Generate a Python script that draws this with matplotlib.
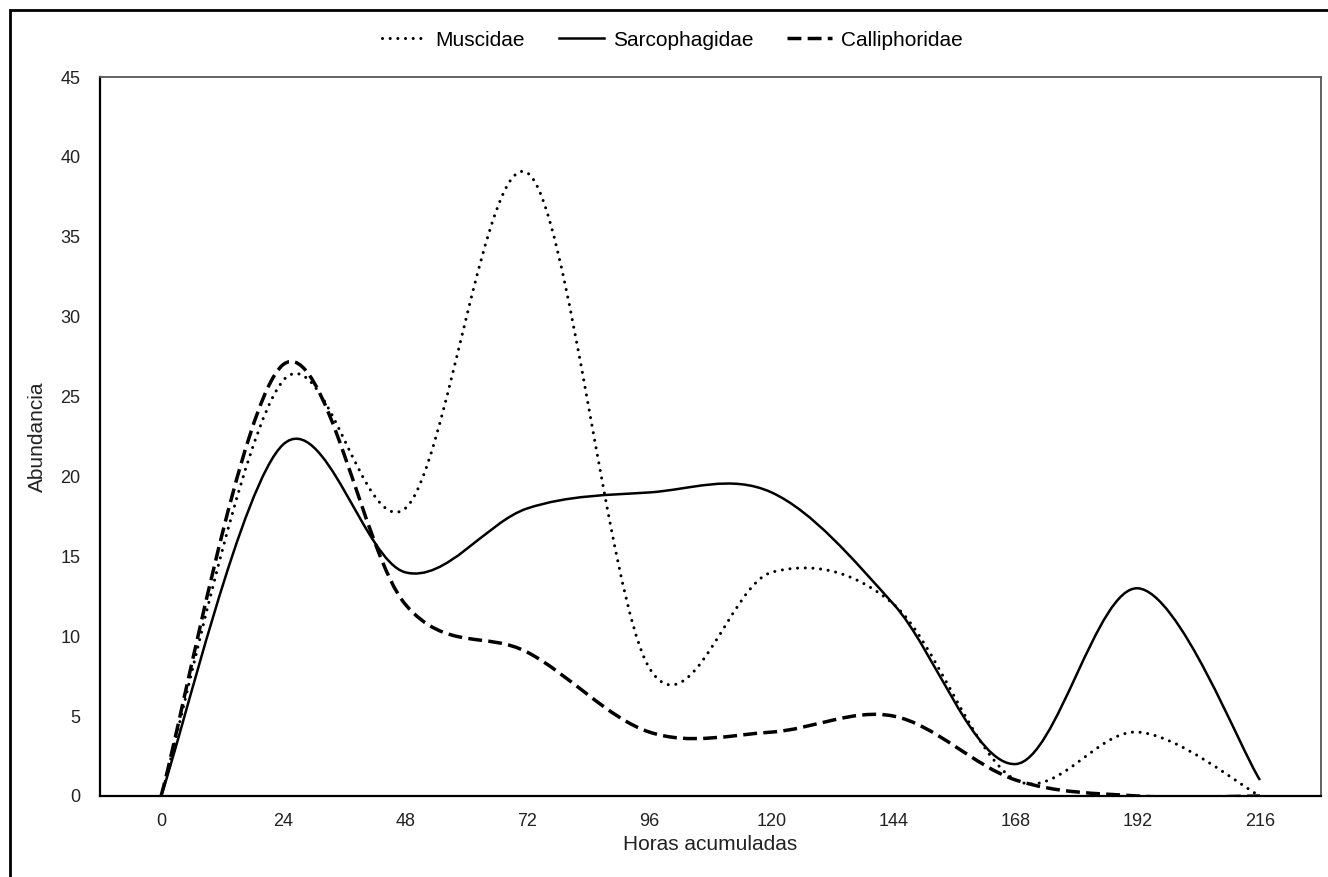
import matplotlib
matplotlib.use("Agg")
import matplotlib.pyplot as plt
from matplotlib.path import Path
from matplotlib.patches import PathPatch, Rectangle
from matplotlib.lines import Line2D

plt.rcParams["font.family"] = ["Liberation Sans", "DejaVu Sans"]

# data
horas = ["0", "24", "48", "72", "96", "120", "144", "168", "192", "216"]
muscidae = [0, 26, 18, 39, 8, 14, 12, 1, 4, 0]
sarcophagidae = [0, 22, 14, 18, 19, 19, 12, 2, 13, 1]
calliphoridae = [0, 27, 12, 9, 4, 4, 5, 1, 0, 0]

series = ["Muscidae", "Sarcophagidae", "Calliphoridae"]
styles = {
    "Muscidae": dict(linestyle=(0, (0.01, 2.5)), linewidth=2.2, capstyle="round"),
    "Sarcophagidae": dict(linestyle="-", linewidth=1.8, capstyle="butt"),
    "Calliphoridae": dict(linestyle=(0, (4, 1.8)), linewidth=2.5, capstyle="butt"),
}


def smooth_path(values):
    # Excel-like smoothed line: Catmull-Rom turned into cubic bezier segments
    n = len(values)
    pts = [(float(i), float(v)) for i, v in enumerate(values)]
    verts = [pts[0]]
    codes = [Path.MOVETO]
    for i in range(n - 1):
        p0 = pts[max(i - 1, 0)]
        p1 = pts[i]
        p2 = pts[i + 1]
        p3 = pts[min(i + 2, n - 1)]
        c1 = (p1[0] + (p2[0] - p0[0]) / 6, p1[1] + (p2[1] - p0[1]) / 6)
        c2 = (p2[0] - (p3[0] - p1[0]) / 6, p2[1] - (p3[1] - p1[1]) / 6)
        verts += [c1, c2, p2]
        codes += [Path.CURVE4] * 3
    return Path(verts, codes)


fig = plt.figure(figsize=(13.28, 8.77), dpi=100)
ax = fig.add_axes([100 / 1328, 1 - 796 / 877, 1221 / 1328, 719 / 877])

# outer chart border (cut off on right and bottom like the original)
fig.patches.append(Rectangle((10 / 1328, -0.1), 1.2, 1 - 10 / 877 + 0.1,
                             transform=fig.transFigure, fill=False,
                             edgecolor="black", linewidth=2))

handles = []
for name, vals in zip(series, [muscidae, sarcophagidae, calliphoridae]):
    st = styles[name]
    patch = PathPatch(smooth_path(vals), fill=False, edgecolor="black",
                      linewidth=st["linewidth"], linestyle=st["linestyle"],
                      capstyle=st["capstyle"])
    ax.add_patch(patch)
    handles.append(Line2D([], [], color="black", linewidth=st["linewidth"],
                          linestyle=st["linestyle"],
                          dash_capstyle=st["capstyle"]))

ax.set_xlim(-0.5, len(horas) - 0.5)
ax.set_ylim(0, 45)
ax.set_xticks(range(len(horas)))
ax.set_xticklabels(horas)
ax.set_yticks(range(0, 46, 5))
ax.tick_params(axis="both", length=0, labelsize=13, colors="#222222")
ax.tick_params(axis="x", pad=12)
ax.tick_params(axis="y", pad=14)

for side in ["left", "bottom"]:
    ax.spines[side].set_color("black")
    ax.spines[side].set_linewidth(1.6)
for side in ["top", "right"]:
    ax.spines[side].set_color("#555555")
    ax.spines[side].set_linewidth(1.3)

ax.set_xlabel("Horas acumuladas", fontsize=15, color="#222222", labelpad=4)
ax.set_ylabel("Abundancia", fontsize=15, color="#222222", labelpad=10)

fig.legend(handles, series, loc="center", bbox_to_anchor=(672 / 1328, 1 - 40 / 877),
           ncol=3, frameon=False, fontsize=15, handlelength=2.2,
           handletextpad=0.4, columnspacing=1.6)

fig.savefig("out.png", dpi=100)
